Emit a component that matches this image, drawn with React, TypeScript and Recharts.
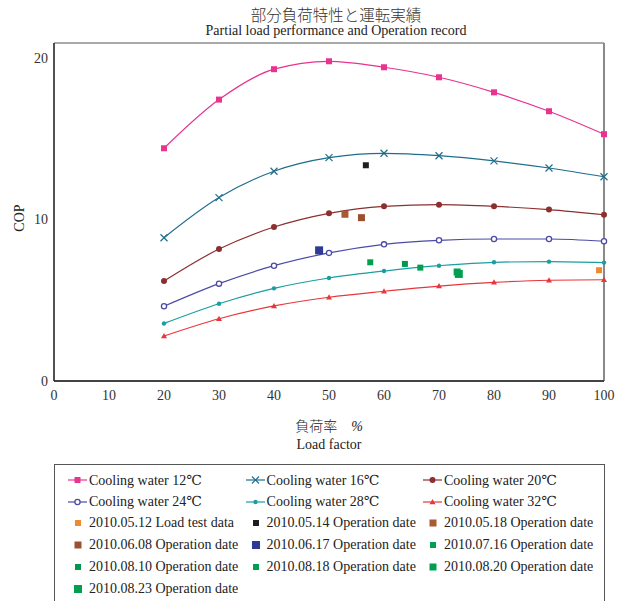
import React from "react";
import {
  ComposedChart,
  Line,
  XAxis,
  YAxis,
  ReferenceArea,
  ReferenceLine,
} from "recharts";

// load factor (%) for the rated curves
const loads = [20, 30, 40, 50, 60, 70, 80, 90, 100];

// COP per cooling water temperature
const cw12 = [14.39, 17.4, 19.28, 19.77, 19.4, 18.78, 17.85, 16.68, 15.26];
const cw16 = [8.86, 11.34, 12.97, 13.81, 14.08, 13.93, 13.61, 13.17, 12.63];
const cw20 = [6.18, 8.16, 9.52, 10.37, 10.8, 10.9, 10.8, 10.6, 10.28];
const cw24 = [4.62, 6.02, 7.13, 7.92, 8.45, 8.7, 8.78, 8.78, 8.64];
const cw28 = [3.56, 4.78, 5.73, 6.37, 6.8, 7.13, 7.34, 7.38, 7.32];
const cw32 = [2.78, 3.85, 4.64, 5.18, 5.55, 5.87, 6.1, 6.23, 6.26];

// measured points [load, COP]
const rec0512 = [[99.1, 6.85]];
const rec0514 = [[56.7, 13.34]];
const rec0518 = [[52.9, 10.31]];
const rec0608 = [[55.9, 10.1]];
const rec0617 = [[48.2, 8.08]];
const rec0716 = [[57.5, 7.34]];
const rec0810 = [[63.8, 7.24]];
const rec0818 = [[66.6, 7.01]];
const rec0820 = [[73.3, 6.74]];
const rec0823 = [[73.6, 6.62]];

const xTicks = [0, 10, 20, 30, 40, 50, 60, 70, 80, 90, 100];

const FONT = '"Liberation Serif", "Times New Roman", "DejaVu Serif", serif';
const JP_FONT = '"Noto Sans CJK JP", sans-serif';

const curveData = loads.map((x, i) => ({
  x,
  cw12: cw12[i],
  cw16: cw16[i],
  cw20: cw20[i],
  cw24: cw24[i],
  cw28: cw28[i],
  cw32: cw32[i],
}));

type MarkerKind = "square" | "cross" | "dot" | "ring" | "small" | "triangle";

function marker(kind: MarkerKind, cx: number, cy: number, color: string, key?: any) {
  switch (kind) {
    case "square":
      return <rect key={key} x={cx - 3} y={cy - 3} width={6} height={6} fill={color} />;
    case "cross":
      return (
        <path
          key={key}
          d={`M${cx - 3.5},${cy - 3.5}L${cx + 3.5},${cy + 3.5}M${cx - 3.5},${cy + 3.5}L${cx + 3.5},${cy - 3.5}`}
          stroke={color}
          strokeWidth={1.2}
          fill="none"
        />
      );
    case "dot":
      return <circle key={key} cx={cx} cy={cy} r={3} fill={color} />;
    case "ring":
      return <circle key={key} cx={cx} cy={cy} r={2.6} fill="#fff" stroke={color} strokeWidth={1.3} />;
    case "small":
      return <circle key={key} cx={cx} cy={cy} r={2.2} fill={color} />;
    case "triangle":
      return (
        <path
          key={key}
          d={`M${cx},${cy - 3}L${cx + 3},${cy + 2.2}L${cx - 3},${cy + 2.2}Z`}
          fill={color}
        />
      );
  }
}

const curves: { key: string; name: string; color: string; kind: MarkerKind }[] = [
  { key: "cw12", name: "Cooling water 12℃", color: "#e8338f", kind: "square" },
  { key: "cw16", name: "Cooling water 16℃", color: "#1f6e8c", kind: "cross" },
  { key: "cw20", name: "Cooling water 20℃", color: "#8c2f2f", kind: "dot" },
  { key: "cw24", name: "Cooling water 24℃", color: "#4b4ba6", kind: "ring" },
  { key: "cw28", name: "Cooling water 28℃", color: "#1a9ea0", kind: "small" },
  { key: "cw32", name: "Cooling water 32℃", color: "#e8363c", kind: "triangle" },
];

const records: { name: string; pts: number[][]; color: string; size: number }[] = [
  { name: "2010.05.12 Load test data", pts: rec0512, color: "#f08a30", size: 6 },
  { name: "2010.05.14 Operation date", pts: rec0514, color: "#1e1e1e", size: 6 },
  { name: "2010.05.18 Operation date", pts: rec0518, color: "#a85a30", size: 7 },
  { name: "2010.06.08 Operation date", pts: rec0608, color: "#9c5030", size: 7 },
  { name: "2010.06.17 Operation date", pts: rec0617, color: "#2e3a96", size: 8 },
  { name: "2010.07.16 Operation date", pts: rec0716, color: "#00a050", size: 6 },
  { name: "2010.08.10 Operation date", pts: rec0810, color: "#00984c", size: 6 },
  { name: "2010.08.18 Operation date", pts: rec0818, color: "#00a050", size: 6 },
  { name: "2010.08.20 Operation date", pts: rec0820, color: "#00a050", size: 7 },
  { name: "2010.08.23 Operation date", pts: rec0823, color: "#00a050", size: 8 },
];

function LegendBox() {
  const items = [
    ...curves.map((c) => ({ name: c.name, line: true, color: c.color, kind: c.kind, size: 6 })),
    ...records.map((r) => ({ name: r.name, line: false, color: r.color, kind: "square" as MarkerKind, size: r.size })),
  ];
  const colX = [13, 190.6, 368];
  return (
    <div
      style={{
        position: "absolute",
        left: 54,
        top: 464,
        width: 551,
        height: 150,
        border: "1px solid #555",
        boxSizing: "border-box",
        fontFamily: FONT,
        fontSize: 14,
        color: "#222",
      }}
    >
      {items.map((it, i) => {
        const col = i % 3;
        const row = Math.floor(i / 3);
        return (
          <div
            key={it.name}
            style={{
              position: "absolute",
              left: colX[col],
              top: 6 + row * 21.7,
              height: 18,
              display: "flex",
              alignItems: "center",
              whiteSpace: "nowrap",
            }}
          >
            <svg width={20} height={18} style={{ marginRight: 1 }}>
              {it.line && <line x1={0} y1={9} x2={19} y2={9} stroke={it.color} strokeWidth={1.2} />}
              {it.line
                ? marker(it.kind, 9.5, 9, it.color)
                : <rect x={9.5 - it.size / 2 + 0.5} y={9 - it.size / 2} width={it.size} height={it.size} fill={it.color} />}
            </svg>
            <span>{it.name}</span>
          </div>
        );
      })}
    </div>
  );
}

export default function App() {
  return (
    <div style={{ position: "absolute", left: 0, top: 0, width: 624, height: 601, background: "#fff", overflow: "hidden", fontFamily: FONT }}>
      <div style={{ position: "absolute", left: 0, width: 672, top: 3, textAlign: "center", fontSize: 15.5, color: "#333", fontFamily: JP_FONT, fontWeight: 300 }}>
        部分負荷特性と運転実績
      </div>
      <div style={{ position: "absolute", left: 0, width: 672, top: 23, textAlign: "center", fontSize: 14, color: "#222" }}>
        Partial load performance and Operation record
      </div>
      <div
        style={{
          position: "absolute",
          left: 20 - 30,
          top: 218 - 10,
          width: 60,
          height: 20,
          textAlign: "center",
          fontSize: 14,
          lineHeight: "20px",
          color: "#222",
          transform: "rotate(-90deg)",
        }}
      >
        COP
      </div>
      <div style={{ position: "absolute", left: 54, width: 550, top: 416, textAlign: "center", fontSize: 14, color: "#222", lineHeight: "18px" }}>
        <div>
          <span style={{ fontFamily: JP_FONT, fontWeight: 300 }}>負荷率</span>
          <span style={{ marginLeft: 14, fontStyle: "italic" }}>%</span>
        </div>
        <div>Load factor</div>
      </div>

      <ComposedChart
        width={624}
        height={601}
        data={curveData}
        margin={{ top: 43, right: 20, bottom: 200, left: 0 }}
        style={{ position: "absolute", left: 0, top: 0 }}
      >
        <XAxis
          dataKey="x"
          type="number"
          domain={[0, 100]}
          ticks={xTicks}
          interval={0}
          height={20}
          tickLine={false}
          tickSize={6}
          tickMargin={3}
          axisLine={{ stroke: "#222", strokeWidth: 1.3 }}
          tick={{ fontSize: 14, fill: "#333", fontFamily: FONT }}
          allowDuplicatedCategory={false}
        />
        <YAxis
          type="number"
          domain={[0, 20.9]}
          ticks={[0, 10, 20]}
          width={54}
          tickLine={false}
          tickSize={4}
          tickMargin={2}
          axisLine={{ stroke: "#222", strokeWidth: 1.3 }}
          tick={{ fontSize: 14, fill: "#333", fontFamily: FONT }}
        />
        <ReferenceArea x1={0} x2={100} y1={0} y2={20.9} fill="none" stroke="#555" strokeWidth={1} ifOverflow="extendDomain" />
        <ReferenceLine x={100} stroke="#8a8a8a" strokeWidth={2} />
        {curves.map((c) => (
          <Line
            key={c.key}
            dataKey={c.key}
            type="monotone"
            stroke={c.color}
            strokeWidth={1.2}
            isAnimationActive={false}
            dot={(p: any) => marker(c.kind, p.cx, p.cy, c.color, `${c.key}-${p.index}`)}
            activeDot={false}
          />
        ))}
        {records.map((r, ri) => (
          <Line
            key={r.name}
            data={r.pts.map(([x, y]) => ({ x, y }))}
            dataKey="y"
            stroke="none"
            isAnimationActive={false}
            activeDot={false}
            dot={(p: any) => (
              <rect
                key={`rec-${ri}-${p.index}`}
                x={p.cx - r.size / 2}
                y={p.cy - r.size / 2}
                width={r.size}
                height={r.size}
                fill={r.color}
              />
            )}
          />
        ))}
      </ComposedChart>
      <LegendBox />
    </div>
  );
}
